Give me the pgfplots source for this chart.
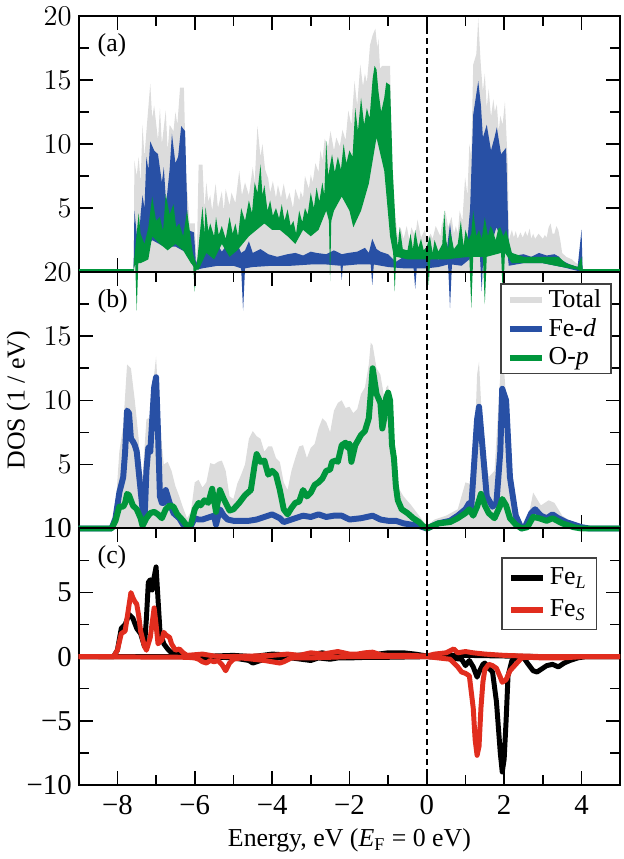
\documentclass[border=0pt]{standalone}
\usepackage{fontspec}
\setmainfont{Liberation Serif}
\usepackage{pgfplots}
\pgfplotsset{compat=1.18}

\definecolor{cTot}{RGB}{220,220,220}
\definecolor{cFe}{RGB}{40,80,165}
\definecolor{cO}{RGB}{0,150,60}
\definecolor{cRed}{RGB}{225,45,30}

\tikzset{plab/.style={anchor=west, font=\fontsize{13}{14}\selectfont}}
\pgfplotsset{
  dosax/.style={
    scale only axis, width=272.5pt, height=129pt,
    xmin=-9, xmax=5,
    xtick={-8,-6,-4,-2,0,2,4}, minor x tick num=1, minor y tick num=1,
    tick align=inside, xtick pos=both, ytick pos=both,
    major tick length=7pt, minor tick length=5pt,
    axis line style={line width=1pt},
    every tick/.style={black, line width=0.8pt},
    tick label style={font=\fontsize{14.5}{15}\selectfont},
    label style={font=\fontsize{13}{14}\selectfont},
    clip=false,
    legend cell align=left,
    legend image code/.code={\draw[#1] (0pt,0pt) -- (16pt,0pt);},
  },
  zeroline/.style={black, line width=1.2pt, dash pattern=on 3pt off 2pt},
}

\begin{document}
\begin{tikzpicture}

% (a) raw DOS, drawn as envelopes
\begin{axis}[dosax, name=pa, at={(0,0)}, anchor=north west,
  ymin=0, ymax=20, ytick={5,10,15,20}, xticklabels={}]
\addplot[fill=cTot, draw=none] coordinates {(-7.58,0) (-7.56,8.7) (-7.5,7.5) (-7.45,9.0) (-7.4,7.0) (-7.35,11.5) (-7.3,9.0) (-7.25,11) (-7.15,14.7) (-7.1,12.0) (-7.05,13.0) (-6.95,10.3) (-6.9,12.8) (-6.85,10) (-6.75,12.6) (-6.7,9.5) (-6.65,11.5) (-6.55,11) (-6.5,12.5) (-6.45,11.5) (-6.38,14.4) (-6.28,14.4) (-6.23,7.9) (-6.13,3.8) (-6.0,3.8) (-5.95,0.7) (-5.9,8.4) (-5.8,8.4) (-5.75,5.0) (-5.7,7.0) (-5.65,5.5) (-5.6,6.0) (-5.55,4.8) (-5.46,6.9) (-5.4,5.0) (-5.3,6.3) (-5.25,4.8) (-5.2,6.5) (-5.1,5.2) (-5.05,6.2) (-4.95,5.4) (-4.85,7.9) (-4.78,6.0) (-4.7,7.0) (-4.6,6.0) (-4.5,8.2) (-4.45,7.0) (-4.38,11.4) (-4.3,9.0) (-4.25,10.0) (-4.18,8.0) (-4.1,7.3) (-4.05,6.2) (-3.98,7.1) (-3.9,5.8) (-3.85,6.8) (-3.77,5.8) (-3.7,6.9) (-3.62,5.6) (-3.55,6.2) (-3.46,5.0) (-3.4,6.5) (-3.3,5.6) (-3.26,6.3) (-3.2,5.8) (-3.15,7.5) (-3.05,6.5) (-3.0,7.6) (-2.95,7.0) (-2.88,8.5) (-2.8,7.8) (-2.75,9.5) (-2.7,8.7) (-2.64,10.4) (-2.55,9.8) (-2.49,11) (-2.4,9.5) (-2.34,10.5) (-2.25,9.8) (-2.18,11.1) (-2.1,10.3) (-2.03,12.6) (-1.95,11.5) (-1.87,14.9) (-1.8,13.0) (-1.72,16.2) (-1.65,14.5) (-1.6,15.5) (-1.55,14.8) (-1.5,16.5) (-1.47,17.7) (-1.4,18.5) (-1.33,19.0) (-1.28,17.5) (-1.25,18.2) (-1.21,15.9) (-1.15,16.1) (-0.95,16.1) (-0.9,8.4) (-0.82,4.5) (-0.75,2.8) (-0.68,3.5) (-0.6,2.6) (-0.52,3.6) (-0.45,2.5) (-0.4,3.5) (-0.3,2.8) (-0.24,4.1) (-0.15,2.7) (-0.05,3.3) (0,2.5) (0.1,3.0) (0.15,2.6) (0.23,3.6) (0.35,2.8) (0.4,4.0) (0.45,3.0) (0.48,4.8) (0.55,3.5) (0.64,4.3) (0.7,3.0) (0.75,3.6) (0.8,3.0) (0.85,4.8) (0.92,4.0) (0.99,7.4) (1.05,6.0) (1.1,10) (1.15,9.0) (1.2,16.2) (1.28,17.0) (1.33,19.8) (1.38,17.0) (1.4,16) (1.45,14.1) (1.5,15.5) (1.55,12.8) (1.6,14.3) (1.66,12.1) (1.72,13.5) (1.76,12.5) (1.81,13.1) (1.86,11.0) (1.9,12.2) (1.96,11.5) (2.02,13.3) (2.1,8) (2.12,2.5) (2.2,3.3) (2.25,2.7) (2.3,3.2) (2.35,2.6) (2.42,3.1) (2.48,2.7) (2.55,3.2) (2.6,2.8) (2.66,3.4) (2.7,2.6) (2.75,3.0) (2.8,2.6) (2.89,3.0) (3.0,2.6) (3.05,2.9) (3.1,2.7) (3.15,3.5) (3.2,3.8) (3.25,3.0) (3.3,3.0) (3.35,3.6) (3.4,3.3) (3.45,2.5) (3.5,1.5) (3.6,1.2) (3.75,1.0) (3.86,0.7) (3.95,0.6) (4.0,3.3) (4.03,0)} \closedcycle;
\addplot[fill=cFe, draw=none] coordinates {(-7.58,0.5) (-7.56,4.8) (-7.5,3.0) (-7.45,2.2) (-7.4,4.5) (-7.35,6) (-7.3,5.0) (-7.25,9) (-7.2,8.0) (-7.15,10.2) (-7.05,9.5) (-6.95,9.2) (-6.85,7) (-6.8,8.2) (-6.74,5.3) (-6.65,8) (-6.59,10.8) (-6.5,8.5) (-6.43,9.0) (-6.35,11.4) (-6.25,11.0) (-6.18,3.3) (-6.02,3.1) (-5.97,0.7) (-5.9,1.2) (-5.8,1.5) (-5.72,1.5) (-5.65,2.0) (-5.5,1.7) (-5.4,2.1) (-5.3,1.6) (-5.2,2.0) (-5.1,1.9) (-5.0,2.4) (-4.9,2.2) (-4.8,1.5) (-4.7,1.7) (-4.6,2.4) (-4.5,1.5) (-4.3,1.8) (-4.1,1.4) (-3.87,1.2) (-3.6,1.4) (-3.4,1.5) (-3.2,1.3) (-3.0,1.6) (-2.85,1.5) (-2.6,1.4) (-2.4,1.7) (-2.2,1.4) (-2.03,1.5) (-1.8,1.6) (-1.6,1.9) (-1.5,1.5) (-1.41,2.6) (-1.3,1.8) (-1.2,1.6) (-1.0,1.4) (-0.8,0.8) (-0.6,1.2) (-0.3,1.4) (0,1.2) (0.3,1.0) (0.5,1.3) (0.6,3.8) (0.68,1.7) (0.85,2.0) (0.95,1.6) (1.05,2.5) (1.12,5) (1.2,12.3) (1.33,14.9) (1.4,13.0) (1.45,10.5) (1.55,11.5) (1.66,9.5) (1.75,10.5) (1.81,11.3) (1.92,9.2) (2.05,9.7) (2.12,1.7) (2.3,1.3) (2.5,1.4) (2.7,1.2) (2.9,1.5) (3.1,1.3) (3.3,1.4) (3.42,1.2) (3.5,0.9) (3.7,0.6) (3.9,0.4) (4.0,3.3) (4.03,0)
 (3.9,0.1) (3.5,0.4) (3.0,0.7) (2.5,0.7) (2.12,0.5) (2.05,2.5) (1.9,2.8) (1.8,3.5) (1.7,2.5) (1.47,2.0) (1.42,-1.5) (1.37,1.5) (1.2,1.5) (1.1,1.0) (0.9,0.5) (0.65,0.6) (0.6,-2.8) (0.55,0.6) (0.3,0.4) (0,0.3) (-0.26,0.3) (-0.3,-1.3) (-0.34,0.3) (-0.6,0.3) (-1.0,0.4) (-1.37,0.6) (-1.41,-1.0) (-1.45,0.6) (-1.8,0.6) (-2.17,0.5) (-2.2,-0.6) (-2.23,0.5) (-2.6,0.6) (-3.0,0.6) (-3.5,0.5) (-4.0,0.5) (-4.5,0.4) (-4.7,0.3) (-4.75,-3.0) (-4.8,0.3) (-5.0,0.5) (-5.4,0.5) (-5.8,0.3) (-5.95,0.2) (-6.05,0.5) (-6.2,1.5) (-6.5,2.0) (-6.8,2.0) (-7.1,2.5) (-7.3,1.8) (-7.5,1.0) (-7.58,0.3)};
\addplot[fill=cO, draw=none] coordinates {(-7.58,0.5) (-7.56,1.2) (-7.45,4.6) (-7.4,3.0) (-7.3,2.2) (-7.2,3.5) (-7.1,5.9) (-7.0,4.0) (-6.9,4.3) (-6.82,3.2) (-6.75,6.1) (-6.65,4.5) (-6.55,5.3) (-6.48,3.5) (-6.4,3.8) (-6.3,2.8) (-6.2,4.8) (-6.05,1.5) (-5.95,0.5) (-5.8,5.1) (-5.75,3.0) (-5.72,5.1) (-5.65,3.2) (-5.6,3.8) (-5.5,2.8) (-5.45,4.3) (-5.38,2.9) (-5.3,3.6) (-5.2,2.6) (-5.1,4.3) (-5.02,3.0) (-4.95,3.8) (-4.88,2.8) (-4.8,5.0) (-4.7,4.0) (-4.6,5.6) (-4.52,4.6) (-4.45,7.0) (-4.38,6.2) (-4.3,8.4) (-4.25,6.0) (-4.2,6.8) (-4.12,4.8) (-4.05,5.6) (-3.98,4.4) (-3.9,5.0) (-3.82,4.2) (-3.75,5.3) (-3.68,4.0) (-3.6,4.9) (-3.52,3.6) (-3.45,4.0) (-3.38,3.0) (-3.3,4.8) (-3.22,3.9) (-3.15,5.0) (-3.08,4.5) (-3.0,6.2) (-2.92,5.0) (-2.85,6.6) (-2.78,5.5) (-2.7,7.0) (-2.65,6.0) (-2.6,10.2) (-2.55,7.5) (-2.45,9.2) (-2.38,7.8) (-2.3,9.0) (-2.22,8.0) (-2.15,10.0) (-2.08,8.5) (-2.0,9.5) (-1.92,9.0) (-1.85,12.8) (-1.78,11.0) (-1.7,13.6) (-1.62,11.5) (-1.55,12.8) (-1.48,12.0) (-1.4,15.1) (-1.35,16.1) (-1.3,15.8) (-1.25,14.1) (-1.18,12.5) (-1.1,13.6) (-1.05,14.8) (-0.95,14.6) (-0.88,7.9) (-0.8,3.3) (-0.75,2.0) (-0.7,3.5) (-0.62,1.8) (-0.5,1.7) (-0.42,3.0) (-0.36,1.8) (-0.3,3.3) (-0.22,1.9) (-0.15,2.6) (-0.08,1.7) (0,2.0) (0.08,2.8) (0.15,1.5) (0.2,2.5) (0.3,1.6) (0.4,2.2) (0.45,4.8) (0.5,2.5) (0.55,1.8) (0.6,3.3) (0.7,1.8) (0.8,2.2) (0.88,4.0) (0.95,2.0) (1.0,3.3) (1.08,2.5) (1.15,3.0) (1.2,4.8) (1.28,2.8) (1.35,3.3) (1.42,2.6) (1.5,4.3) (1.58,2.8) (1.65,3.6) (1.7,3.3) (1.78,2.5) (1.85,3.4) (1.9,3.5) (1.98,2.8) (2.05,3.3) (2.2,1.5) (2.5,1.2) (3.0,1.2) (3.4,1.2) (3.6,0.7) (3.9,0.4) (4.0,1.2) (4.03,0.2)
 (4.03,0) (3.9,0.2) (3.5,0.4) (3.0,0.7) (2.2,0.7) (2.02,1.5) (1.97,-2.2) (1.92,1.5) (1.55,1.2) (1.5,-2.5) (1.45,1.2) (1.2,1.2) (1.15,-2.8) (1.1,1.2) (0.5,1.0) (0.09,1.0) (0.05,-1.0) (0.01,1.0) (-0.5,1.0) (-0.79,1.2) (-0.83,-1.5) (-0.87,1.5) (-0.95,2.8) (-1.1,7.9) (-1.3,10.5) (-1.5,6.9) (-1.7,4.8) (-1.9,3.5) (-2.0,4.8) (-2.2,5.9) (-2.4,4.8) (-2.47,4.0) (-2.5,-0.7) (-2.53,4.0) (-2.6,4.8) (-2.8,3.3) (-3.0,2.8) (-3.2,3.3) (-3.4,2.2) (-3.6,2.8) (-3.8,3.3) (-4.0,3.3) (-4.2,3.8) (-4.4,3.3) (-4.6,2.8) (-4.9,1.7) (-5.1,1.2) (-5.3,2.2) (-5.5,1.0) (-5.7,1.5) (-5.9,0.2) (-5.96,0.2) (-6.0,-1.5) (-6.04,0.5) (-6.1,0.7) (-6.3,1.7) (-6.5,2.2) (-6.7,1.7) (-6.9,2.2) (-7.1,2.8) (-7.2,1.0) (-7.4,0.7) (-7.46,0.7) (-7.5,-3.0) (-7.54,0.7) (-7.58,0.2)};
\addplot[cO, line width=2pt] coordinates {(-9,0.1) (-7.58,0.1)};
\addplot[cO, line width=2pt] coordinates {(4.0,0.1) (5,0.1)};
\addplot[zeroline] coordinates {(0,0) (0,20)};
\node[plab] at (rel axis cs:0.022,0.887) {(a)};
\end{axis}

% (b) smoothed DOS
\begin{axis}[dosax, name=pb, at={(pa.south west)}, anchor=north west,
  ymin=0, ymax=20, ytick={5,10,15,20}, xticklabels={},
  ylabel={DOS (1 / eV)},
  legend style={at={(rel axis cs:0.985,0.957)}, anchor=north east,
    draw=black!75, line width=0.8pt, font=\fontsize{13}{14}\selectfont,
    inner xsep=3pt, inner ysep=1pt, row sep=0pt}]
\addplot[fill=cTot, draw=none, forget plot] coordinates {(-9,0) (-8.2,0) (-8.1,0.5) (-8.05,1.5) (-7.95,6.0) (-7.85,8.0) (-7.75,12.8) (-7.65,12.5) (-7.55,10) (-7.45,7) (-7.4,5) (-7.35,4) (-7.25,8.5) (-7.15,8.7) (-7.05,12) (-7.0,13.4) (-6.9,8) (-6.8,5) (-6.7,5.2) (-6.6,4.5) (-6.5,3.3) (-6.4,2.5) (-6.3,1.6) (-6.2,0.8) (-6.1,1.3) (-6.0,3.6) (-5.9,3.8) (-5.8,3.2) (-5.7,3.6) (-5.6,5.1) (-5.5,5.0) (-5.4,5.2) (-5.3,5.3) (-5.2,4.5) (-5.1,2.5) (-5.0,2.3) (-4.9,3.5) (-4.8,4.2) (-4.7,5.0) (-4.6,7.0) (-4.5,7.6) (-4.4,7.2) (-4.3,7.0) (-4.2,6.0) (-4.1,6.4) (-4.0,6.4) (-3.9,5.5) (-3.8,5.2) (-3.7,3.6) (-3.6,3.0) (-3.5,4.5) (-3.4,5.5) (-3.3,6.4) (-3.2,6.5) (-3.1,5.5) (-3.0,6.3) (-2.9,6.6) (-2.8,7.8) (-2.7,8.6) (-2.6,8.3) (-2.5,7.5) (-2.4,9.2) (-2.3,9.8) (-2.2,10.0) (-2.1,9.4) (-2.0,9.5) (-1.9,9.0) (-1.8,9.3) (-1.7,10.5) (-1.6,11.0) (-1.5,12.8) (-1.45,14.5) (-1.4,14.3) (-1.3,12.5) (-1.2,12.0) (-1.1,10.2) (-1.05,11.0) (-1.0,11.2) (-0.9,8.0) (-0.8,4.5) (-0.7,3.0) (-0.6,2.5) (-0.4,1.8) (-0.2,1.0) (0,0.2) (0.2,0.7) (0.5,1.0) (0.8,1.5) (1.0,3.6) (1.1,3.5) (1.2,3.3) (1.3,12.0) (1.35,13.0) (1.45,7) (1.6,4) (1.75,4.5) (1.9,12) (1.97,13.6) (2.1,8) (2.25,2.5) (2.45,0.3) (2.6,0.5) (2.75,2.8) (2.95,1.8) (3.15,2.2) (3.3,2.0) (3.5,1.0) (3.8,0.4) (4.0,0.1) (4.2,0) (5,0)} \closedcycle;
\addplot[cFe, line width=3pt, line join=round, forget plot] coordinates {(-9,0) (-8.15,0) (-8.05,0.8) (-7.95,2.8) (-7.85,4.0) (-7.8,6.0) (-7.75,9.2) (-7.7,9.0) (-7.65,7.0) (-7.6,6.8) (-7.55,6.5) (-7.5,6.0) (-7.45,4.5) (-7.4,3.0) (-7.35,1.5) (-7.3,0.5) (-7.25,4.5) (-7.2,6.3) (-7.15,6.0) (-7.1,8.5) (-7.05,11.0) (-7.0,11.8) (-6.95,7.5) (-6.9,2.5) (-6.85,2.0) (-6.8,2.0) (-6.75,3.0) (-6.65,2.0) (-6.55,1.2) (-6.4,0.8) (-6.3,0.3) (-6.2,0.2) (-6.1,0.2) (-6.0,0.8) (-5.9,0.7) (-5.8,0.7) (-5.7,0.8) (-5.6,0.9) (-5.5,1.0) (-5.45,0.3) (-5.35,1.5) (-5.25,1.0) (-5.15,0.7) (-5.0,0.6) (-4.8,0.6) (-4.6,0.6) (-4.4,0.7) (-4.2,0.9) (-4.0,1.1) (-3.8,0.8) (-3.7,0.5) (-3.5,0.7) (-3.2,1.0) (-3.0,0.9) (-2.8,1.1) (-2.6,0.9) (-2.4,1.0) (-2.2,1.0) (-2.0,0.7) (-1.7,0.8) (-1.4,1.0) (-1.2,0.7) (-1.0,0.6) (-0.8,0.6) (-0.6,0.4) (-0.4,0.3) (-0.2,0.2) (0,0) (0.3,0.4) (0.6,0.6) (0.8,1.0) (1.0,1.5) (1.1,2.0) (1.15,1.7) (1.3,8.5) (1.35,9.5) (1.45,6) (1.55,2.5) (1.7,1.7) (1.8,2.0) (1.9,6) (1.95,10.9) (2.05,10) (2.15,4) (2.3,1.0) (2.45,0.0) (2.55,0.2) (2.7,1.2) (2.8,1.5) (2.95,1.0) (3.1,0.8) (3.25,1.1) (3.4,0.8) (3.6,0.5) (3.8,0.3) (4.0,0.1) (4.2,0) (5,0)};
\addplot[cO, line width=3pt, line join=round, forget plot] coordinates {(-9,0) (-8.15,0) (-8.05,0.6) (-7.95,1.7) (-7.85,1.7) (-7.8,2.0) (-7.75,2.7) (-7.7,2.6) (-7.6,1.8) (-7.5,1.5) (-7.4,0.8) (-7.35,0.2) (-7.25,0.8) (-7.15,1.2) (-7.05,1.3) (-6.95,1.1) (-6.85,0.8) (-6.75,1.5) (-6.65,1.8) (-6.55,1.7) (-6.45,1.1) (-6.3,0.6) (-6.2,0.2) (-6.1,0.3) (-6.0,1.5) (-5.9,2.0) (-5.85,1.8) (-5.75,2.2) (-5.65,2.0) (-5.55,3.1) (-5.45,1.3) (-5.35,3.0) (-5.25,2.3) (-5.1,1.4) (-5.0,1.5) (-4.85,2.0) (-4.7,2.6) (-4.55,3.0) (-4.45,5.0) (-4.4,5.8) (-4.3,5.2) (-4.2,5.3) (-4.1,4.2) (-4.0,4.5) (-3.9,4.2) (-3.8,3.0) (-3.7,1.5) (-3.6,1.1) (-3.5,1.6) (-3.4,2.0) (-3.3,2.1) (-3.2,3.0) (-3.1,2.5) (-3.0,2.8) (-2.9,3.4) (-2.8,3.6) (-2.7,3.9) (-2.6,4.5) (-2.5,4.6) (-2.45,5.2) (-2.35,5.3) (-2.3,5.2) (-2.2,6.5) (-2.1,6.7) (-2.05,6.3) (-2.0,6.6) (-1.95,5.2) (-1.85,6.5) (-1.7,7.3) (-1.6,7.6) (-1.5,8.6) (-1.45,10.5) (-1.4,12.5) (-1.35,11.5) (-1.3,10.5) (-1.2,9.8) (-1.15,7.8) (-1.1,8.6) (-1.05,10.2) (-1.0,10.6) (-0.95,10.0) (-0.9,6.5) (-0.85,5.5) (-0.8,3.3) (-0.75,2.2) (-0.65,1.5) (-0.5,1.2) (-0.35,0.8) (-0.2,0.5) (-0.1,0.2) (0,0) (0.3,0.4) (0.6,0.5) (0.8,0.8) (1.0,1.2) (1.1,1.5) (1.2,1.0) (1.3,1.7) (1.4,2.7) (1.5,1.8) (1.6,1.2) (1.75,0.8) (1.9,1.8) (1.95,2.3) (2.05,1.8) (2.15,0.8) (2.3,0.3) (2.45,0.0) (2.6,0.1) (2.75,0.9) (2.9,0.8) (3.1,0.6) (3.25,0.8) (3.5,0.4) (3.8,0.1) (4.0,0) (5,0)};
\addplot[zeroline, forget plot] coordinates {(0,0) (0,20)};
\addlegendimage{cTot, line width=3pt}
\addlegendimage{cFe, line width=3pt}
\addlegendimage{cO, line width=3pt}
\legend{Total, Fe-\textit{d}, O-\textit{p}}
\node[plab] at (rel axis cs:0.022,0.887) {(b)};
\end{axis}

% (c) Fe_L and Fe_S
\begin{axis}[dosax, name=pc, at={(pb.south west)}, anchor=north west,
  ymin=-10, ymax=10, ytick={-10,-5,0,5,10}, yticklabels={−10,−5,0,5,10},
  xticklabels={−8,−6,−4,−2,0,2,4},
  xticklabel style={yshift=-2pt},
  xlabel={Energy, eV (\textit{E}\textsubscript{F} = 0 eV)},
  legend style={at={(rel axis cs:0.958,0.888)}, anchor=north east,
    draw=black!75, line width=0.8pt, font=\fontsize{13}{14}\selectfont,
    inner xsep=3pt, inner ysep=3pt, row sep=2pt}]
\addplot[black, line width=2.5pt, line join=round, forget plot] coordinates {(-9,0) (-8.1,0) (-8.0,0.5) (-7.9,2.2) (-7.8,2.5) (-7.7,3.3) (-7.6,3.0) (-7.5,2.2) (-7.4,1.8) (-7.3,0.8) (-7.25,3.0) (-7.2,5.8) (-7.15,6.0) (-7.1,5.2) (-7.05,6.2) (-7.0,7.0) (-6.95,4.5) (-6.9,2.0) (-6.8,1.0) (-6.7,0.6) (-6.6,0.3) (-6.5,0.2) (-6.2,0.05) (-6.0,0.0) (-5.5,0.05) (-5.0,0.1) (-4.5,0.0) (-4.0,0.2) (-3.7,0.15) (-3.4,0.1) (-3.0,0.15) (-2.7,0.3) (-2.4,0.1) (-2.2,0.3) (-2.0,0.1) (-1.5,0.1) (-1.0,0.3) (-0.6,0.3) (-0.3,0.2) (0,0.05) (0.5,0.1) (1.0,0.1) (2.0,0.05) (3.0,0.0) (5,0)};
\addplot[black, line width=2.5pt, line join=round, forget plot] coordinates {(-9,0) (-6.2,0) (-6.0,-0.05) (-5.8,-0.2) (-5.6,-0.1) (-5.3,-0.05) (-5.0,-0.1) (-4.6,-0.3) (-4.5,-0.5) (-4.3,-0.3) (-4.0,-0.1) (-3.5,-0.1) (-3.0,-0.3) (-2.8,-0.1) (-2.5,-0.2) (-2.3,-0.1) (-2.0,-0.1) (-1.5,-0.05) (-1.0,-0.05) (0,0) (0.3,-0.05) (0.6,-0.1) (0.9,-0.2) (1.0,-0.7) (1.1,-0.3) (1.2,-0.8) (1.3,-1.6) (1.35,-1.2) (1.45,-0.6) (1.5,-0.5) (1.6,-0.9) (1.7,-1.2) (1.8,-3.5) (1.9,-7.5) (1.95,-9.0) (2.0,-8.0) (2.05,-5.0) (2.1,-1.5) (2.2,-0.3) (2.3,-0.1) (2.4,-0.2) (2.5,-0.05) (2.6,-0.5) (2.75,-1.1) (2.85,-1.2) (2.95,-1.0) (3.1,-0.7) (3.25,-0.6) (3.4,-0.8) (3.55,-0.5) (3.7,-0.3) (3.9,-0.1) (4.1,0) (5,0)};
\addplot[cRed, line width=2.5pt, line join=round, forget plot] coordinates {(-9,0) (-8.1,0) (-8.0,0.5) (-7.9,1.8) (-7.8,2.0) (-7.7,4.0) (-7.65,5.0) (-7.6,4.6) (-7.55,4.3) (-7.5,4.1) (-7.45,3.2) (-7.4,2.0) (-7.3,0.8) (-7.25,0.5) (-7.15,1.5) (-7.05,3.8) (-7.0,2.5) (-6.95,1.0) (-6.85,1.3) (-6.8,1.9) (-6.75,1.7) (-6.65,1.5) (-6.6,1.0) (-6.5,0.5) (-6.4,0.6) (-6.3,0.3) (-6.2,0.1) (-6.0,0.15) (-5.8,0.2) (-5.5,0.05) (-5.2,0.0) (-4.5,0.05) (-4.0,0.1) (-3.6,0.2) (-3.3,0.1) (-3.0,0.3) (-2.7,0.2) (-2.5,0.3) (-2.3,0.4) (-2.0,0.2) (-1.8,0.2) (-1.6,0.3) (-1.4,0.35) (-1.2,0.15) (-1.0,0.1) (-0.5,0.1) (0,0.05) (0.2,0.2) (0.5,0.3) (0.7,0.6) (0.8,0.3) (1.0,0.4) (1.2,0.3) (1.5,0.2) (2.0,0.1) (2.5,0.05) (3.0,0.0) (5,0)};
\addplot[cRed, line width=2.5pt, line join=round, forget plot] coordinates {(-9,0) (-6.2,-0.05) (-6.0,-0.1) (-5.9,-0.2) (-5.8,-0.4) (-5.7,-0.5) (-5.6,-0.3) (-5.5,-0.4) (-5.4,-0.3) (-5.3,-0.6) (-5.2,-1.1) (-5.1,-0.5) (-5.0,-0.2) (-4.8,-0.1) (-4.5,-0.2) (-4.2,-0.3) (-4.0,-0.4) (-3.8,-0.5) (-3.7,-0.4) (-3.5,-0.1) (-3.0,-0.1) (-2.5,-0.05) (-2.0,0) (0,0) (0.3,-0.1) (0.6,-0.2) (0.8,-0.8) (0.9,-1.2) (1.0,-1.3) (1.1,-1.5) (1.2,-4.0) (1.25,-6.5) (1.3,-7.7) (1.35,-7.0) (1.4,-4.0) (1.45,-2.0) (1.5,-1.0) (1.6,-0.6) (1.7,-0.7) (1.8,-0.9) (1.9,-1.6) (1.95,-2.0) (2.05,-1.8) (2.15,-1.1) (2.3,-0.6) (2.45,-0.1) (2.6,-0.05) (3.0,-0.1) (3.5,-0.1) (4.0,0) (5,0)};
\addplot[zeroline, forget plot] coordinates {(0,-10) (0,10)};
\addlegendimage{black, line width=3pt}
\addlegendimage{cRed, line width=3pt}
\legend{Fe\textsubscript{\textit{L}}, Fe\textsubscript{\textit{S}}}
\node[plab] at (rel axis cs:0.022,0.887) {(c)};
\end{axis}

\end{tikzpicture}
\end{document}
